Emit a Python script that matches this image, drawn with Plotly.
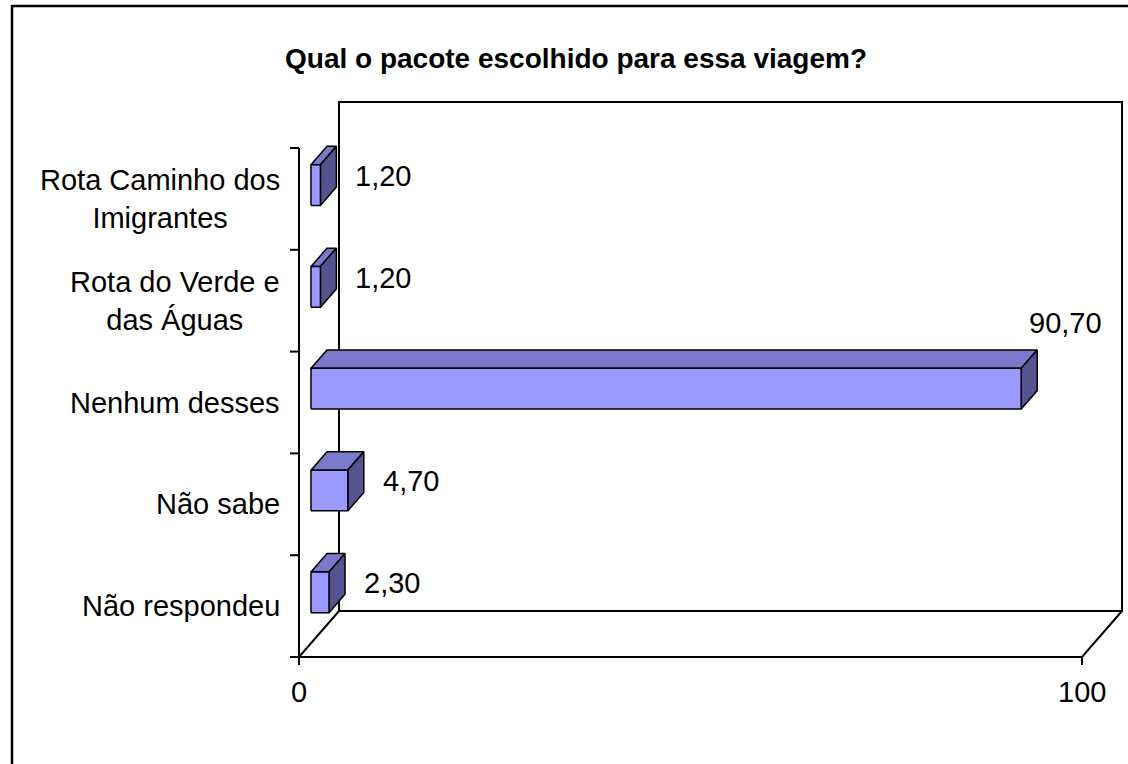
import plotly.graph_objects as go

# ---------------- data ----------------
categories = [
    "Não respondeu",
    "Não sabe",
    "Nenhum desses",
    "Rota do Verde e<br>das Águas",
    "Rota Caminho dos<br>Imigrantes",
]
values = [2.30, 4.70, 90.70, 1.20, 1.20]
x_tick_values = [0, 100]
x_tick_labels = ["0", "100"]
title_text = "Qual o pacote escolhido para essa viagem?"

# ---------------- layout constants ----------------
W, H = 1128, 764
X_MIN, X_MAX = 0, 100
PX_X0, PX_X1 = 299, 1082          # pixel of value 0 and 100 on the front plane
PX_YBOT = 657                      # pixel of the bottom of the category axis (front)
PX_YTOP = 148                      # pixel of the top of the category axis (front)
n = len(categories)
sx = (PX_X1 - PX_X0) / (X_MAX - X_MIN)
band = (PX_YBOT - PX_YTOP) / n

x_range = [X_MIN - PX_X0 / sx, X_MIN + (W - PX_X0) / sx]
y_range = [(PX_YBOT - H) / band - 0.5, PX_YBOT / band - 0.5]

DX = 40 / sx        # depth offset (x units)
DY = 46 / band      # depth offset (category units)
F_FRONT, F_BACK = 0.3, 0.7
BAR_H = 0.40
TICK_X = 9 / sx
TICK_Y = 8 / band

FONT = "Liberation Sans, Arial, sans-serif"
FRONT_COL = "#9999FF"
TOP_COL = "#7A7ACC"
SIDE_COL = "#545490"

y_lo, y_hi = -0.5, n - 0.5

fig = go.Figure()


def poly(xs, ys, fill, lw=2):
    fig.add_trace(go.Scatter(
        x=xs + [xs[0]], y=ys + [ys[0]], mode="lines", fill="toself",
        fillcolor=fill, line=dict(color="black", width=lw),
        hoverinfo="skip", showlegend=False))


def line(xs, ys, lw=2):
    fig.add_trace(go.Scatter(
        x=xs, y=ys, mode="lines", line=dict(color="black", width=lw),
        hoverinfo="skip", showlegend=False))


# back wall
poly([X_MIN + DX, X_MAX + DX, X_MAX + DX, X_MIN + DX],
     [y_lo + DY, y_lo + DY, y_hi + DY, y_hi + DY], "white")
# floor
poly([X_MIN, X_MAX, X_MAX + DX, X_MIN + DX],
     [y_lo, y_lo, y_lo + DY, y_lo + DY], "white")
# category axis line
line([X_MIN, X_MIN], [y_lo - TICK_Y, y_hi])
# category ticks
for k in range(n + 1):
    line([X_MIN - TICK_X, X_MIN], [y_lo + k, y_lo + k])
# value axis ticks
for tv in x_tick_values:
    line([tv, tv], [y_lo - TICK_Y, y_lo])

# bars
for i, v in enumerate(values):
    xf0, xf1 = X_MIN + F_FRONT * DX, v + F_FRONT * DX
    xb0, xb1 = X_MIN + F_BACK * DX, v + F_BACK * DX
    yf0, yf1 = i - BAR_H / 2 + F_FRONT * DY, i + BAR_H / 2 + F_FRONT * DY
    yb0, yb1 = i - BAR_H / 2 + F_BACK * DY, i + BAR_H / 2 + F_BACK * DY
    poly([xf0, xf1, xb1, xb0], [yf1, yf1, yb1, yb1], TOP_COL, 1.5)
    poly([xf1, xb1, xb1, xf1], [yf0, yb0, yb1, yf1], SIDE_COL, 1.5)
    poly([xf0, xf1, xf1, xf0], [yf0, yf0, yf1, yf1], FRONT_COL, 1.5)

annotations = []
# value labels
for i, v in enumerate(values):
    txt = f"{v:.2f}".replace(".", ",")
    if v > 0.8 * X_MAX:
        annotations.append(dict(
            x=v + F_BACK * DX, y=i + BAR_H / 2 + F_BACK * DY, text=txt,
            xanchor="center", yanchor="middle", xshift=28, yshift=27,
            showarrow=False, font=dict(family=FONT, size=29, color="black")))
    else:
        annotations.append(dict(
            x=v + 0.5 * DX, y=i + 0.5 * DY, text=txt,
            xanchor="left", yanchor="middle", xshift=25,
            showarrow=False, font=dict(family=FONT, size=29, color="black")))

# category labels
for i, c in enumerate(categories):
    annotations.append(dict(
        x=X_MIN, y=i, text=c, xanchor="right", yanchor="middle", align="center",
        xshift=-17, showarrow=False,
        font=dict(family=FONT, size=29, color="black")))

# value tick labels
for tv, tl in zip(x_tick_values, x_tick_labels):
    annotations.append(dict(
        x=tv, y=y_lo, text=tl, xanchor="center", yanchor="middle", yshift=-35,
        showarrow=False, font=dict(family=FONT, size=29, color="black")))

# title
annotations.append(dict(
    xref="paper", yref="paper", x=576 / W, y=1 - 58 / H, text=f"<b>{title_text}</b>",
    xanchor="center", yanchor="middle", showarrow=False,
    font=dict(family=FONT, size=28, color="black")))

fig.update_layout(
    width=W, height=H,
    margin=dict(l=0, r=0, t=0, b=0),
    paper_bgcolor="white", plot_bgcolor="white",
    xaxis=dict(range=x_range, visible=False, fixedrange=True),
    yaxis=dict(range=y_range, visible=False, fixedrange=True),
    annotations=annotations,
    shapes=[dict(type="rect", xref="paper", yref="paper",
                 x0=12 / W, y0=-0.02, x1=1.02, y1=1 - 6 / H,
                 line=dict(color="black", width=2.5), fillcolor="rgba(0,0,0,0)")],
)

fig.write_html(
    "out.html",
    config={"displayModeBar": False},
    post_script="document.body.style.margin='0';document.body.style.overflow='hidden';",
)
